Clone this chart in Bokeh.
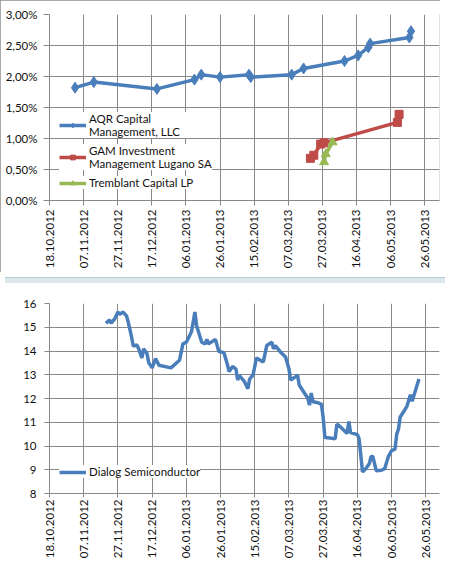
import math
import pandas as pd
from bokeh.plotting import figure
from bokeh.layouts import column
from bokeh.models import (FixedTicker, DatetimeTickFormatter, CustomJSTickFormatter,
                          Legend, LegendItem, Range1d, Div)
from bokeh.embed import file_html
from bokeh.resources import INLINE

# ---------------- data ----------------
x_tick_dates = ["18.10.2012", "07.11.2012", "27.11.2012", "17.12.2012", "06.01.2013",
                "26.01.2013", "15.02.2013", "07.03.2013", "27.03.2013", "16.04.2013",
                "06.05.2013", "26.05.2013"]

aqr_dates = ["02.11.2012", "13.11.2012", "20.12.2012", "11.01.2013", "15.01.2013",
             "26.01.2013", "12.02.2013", "13.02.2013", "09.03.2013", "16.03.2013",
             "09.04.2013", "17.04.2013", "23.04.2013", "24.04.2013", "17.05.2013",
             "18.05.2013"]
aqr_pct = [1.82, 1.91, 1.80, 1.95, 2.03, 1.99, 2.03, 1.99, 2.03, 2.13, 2.25, 2.34,
           2.47, 2.53, 2.63, 2.73]

gam_dates = ["20.03.2013", "22.03.2013", "26.03.2013", "28.03.2013", "10.05.2013",
             "11.05.2013"]
gam_pct = [0.68, 0.73, 0.91, 0.93, 1.26, 1.39]

trem_dates = ["28.03.2013", "29.03.2013", "02.04.2013"]
trem_pct = [0.62, 0.75, 0.94]

dialog_dates = [
    "20.11.2012", "22.11.2012", "23.11.2012", "25.11.2012", "27.11.2012", "28.11.2012",
    "30.11.2012", "02.12.2012", "03.12.2012", "05.12.2012", "06.12.2012", "08.12.2012",
    "09.12.2012", "11.12.2012", "12.12.2012", "14.12.2012", "15.12.2012", "17.12.2012",
    "19.12.2012", "21.12.2012", "28.12.2012", "02.01.2013", "04.01.2013", "06.01.2013",
    "09.01.2013", "11.01.2013", "12.01.2013", "15.01.2013", "17.01.2013", "18.01.2013",
    "19.01.2013", "23.01.2013", "25.01.2013", "28.01.2013", "30.01.2013", "31.01.2013",
    "02.02.2013", "04.02.2013", "05.02.2013", "06.02.2013", "09.02.2013", "11.02.2013",
    "12.02.2013", "14.02.2013", "16.02.2013", "20.02.2013", "22.02.2013", "25.02.2013",
    "26.02.2013", "27.02.2013", "02.03.2013", "05.03.2013", "07.03.2013", "08.03.2013",
    "11.03.2013", "12.03.2013", "13.03.2013", "16.03.2013", "18.03.2013", "19.03.2013",
    "20.03.2013", "21.03.2013", "24.03.2013", "26.03.2013", "27.03.2013", "28.03.2013",
    "31.03.2013", "03.04.2013", "04.04.2013", "06.04.2013", "10.04.2013", "11.04.2013",
    "12.04.2013", "16.04.2013", "17.04.2013", "19.04.2013", "21.04.2013", "23.04.2013",
    "24.04.2013", "25.04.2013", "27.04.2013", "30.04.2013", "02.05.2013", "04.05.2013",
    "06.05.2013", "08.05.2013", "09.05.2013", "10.05.2013", "11.05.2013", "13.05.2013",
    "15.05.2013", "17.05.2013", "18.05.2013", "22.05.2013"]
dialog_price = [
    15.17, 15.31, 15.17, 15.34, 15.64, 15.54, 15.64, 15.48, 15.23, 14.58, 14.20, 14.26,
    14.12, 13.71, 14.09, 13.89, 13.51, 13.29, 13.68, 13.40, 13.29, 13.61, 14.30, 14.37,
    14.81, 15.64, 15.06, 14.37, 14.30, 14.49, 14.30, 14.49, 13.98, 13.93, 13.43, 13.13,
    13.35, 13.24, 12.78, 12.96, 12.71, 12.41, 12.82, 12.99, 13.71, 13.54, 14.23, 14.37,
    14.09, 14.23, 13.96, 13.75, 13.24, 12.78, 12.92, 12.99, 12.57, 12.23, 12.02, 11.72,
    12.23, 11.86, 11.82, 11.75, 11.19, 10.36, 10.34, 10.30, 10.92, 10.81, 10.53, 11.03,
    10.57, 10.48, 10.30, 8.91, 9.05, 9.26, 9.56, 9.56, 8.96, 8.98, 9.05, 9.54,
    9.81, 9.87, 10.50, 10.71, 11.22, 11.44, 11.68, 12.16, 11.88, 12.82]

pct_ticks = [0.0, 0.5, 1.0, 1.5, 2.0, 2.5, 3.0]
price_ticks = [8, 9, 10, 11, 12, 13, 14, 15, 16]

# ---------------- styling ----------------
FONT = "Lato"
FSIZE = "11.5px"
GRID = "#888888"
BLUE = "#4A7EBB"
RED = "#BE4B48"
GREEN = "#98B954"


def to_dt(lst):
    return pd.to_datetime(lst, format="%d.%m.%Y")


tick_ms = [float(v) / 1e6 for v in to_dt(x_tick_dates).asi8]
x_start = to_dt(x_tick_dates)[0]
date_fmt = DatetimeTickFormatter(
    milliseconds="%d.%m.%Y", seconds="%d.%m.%Y", minsec="%d.%m.%Y", minutes="%d.%m.%Y",
    hourmin="%d.%m.%Y", hours="%d.%m.%Y", days="%d.%m.%Y", months="%d.%m.%Y",
    years="%d.%m.%Y")


def style(p, yticks):
    for ax in (p.xaxis, p.yaxis):
        ax.axis_line_color = GRID
        ax.major_tick_line_color = GRID
        ax.minor_tick_line_color = None
        ax.major_tick_in = 0
        ax.major_label_text_font = FONT
        ax.major_label_text_font_size = FSIZE
        ax.major_label_text_color = "#111111"
    p.xaxis.ticker = FixedTicker(ticks=tick_ms)
    p.xaxis.formatter = date_fmt
    p.xaxis.major_label_orientation = math.pi / 2
    p.xaxis.major_tick_out = 5
    p.xaxis.major_label_standoff = 4
    p.yaxis.ticker = FixedTicker(ticks=yticks)
    p.yaxis.major_tick_out = 6
    p.yaxis.major_label_standoff = 6
    p.xgrid.grid_line_color = GRID
    p.ygrid.grid_line_color = GRID
    p.outline_line_color = None
    p.background_fill_color = "white"
    p.border_fill_color = "white"


def style_legend(lg):
    lg.label_text_font = FONT
    lg.label_text_font_size = FSIZE
    lg.label_text_color = "#111111"
    lg.glyph_width = 27
    lg.glyph_height = 12
    lg.label_height = 12
    lg.label_standoff = 3
    lg.spacing = 6
    lg.padding = 0
    lg.margin = 0
    lg.background_fill_alpha = 0
    lg.border_line_color = None
    lg.item_background_policy = "every"
    lg.item_background_fill_color = "white"
    lg.item_background_fill_alpha = 1.0


# ---------------- top chart ----------------
top = figure(width=440, height=272, x_axis_type="datetime",
             x_range=Range1d(x_start, x_start + pd.Timedelta(days=228.7)),
             y_range=Range1d(0, 3),
             output_backend="svg", toolbar_location=None,
             min_border_left=48, min_border_right=0, min_border_top=14,
             min_border_bottom=72)
style(top, pct_ticks)
top.yaxis.formatter = CustomJSTickFormatter(
    code="return tick.toFixed(2).replace('.', ',') + '%';")
# chart-object frame (left and top edges visible in the screenshot)
top.styles = {"outline": "1px solid #8C8C8C", "outline-offset": "-1px"}

aqr_x = to_dt(aqr_dates)
gam_x = to_dt(gam_dates)
trem_x = to_dt(trem_dates)
r_aqr_l = top.line(aqr_x, aqr_pct, line_color=BLUE, line_width=3.5)
r_aqr_m = top.scatter(aqr_x, aqr_pct, marker="diamond", size=11, fill_color=BLUE,
                      line_color=BLUE)
r_gam_l = top.line(gam_x, gam_pct, line_color=RED, line_width=3.5)
r_gam_m = top.scatter(gam_x, gam_pct, marker="square", size=8, fill_color=RED,
                      line_color=RED)
r_tr_l = top.line(trem_x, trem_pct, line_color=GREEN, line_width=3.5)
r_tr_m = top.scatter(trem_x, trem_pct, marker="triangle", size=9, fill_color=GREEN,
                     line_color=GREEN)

leg_top = Legend(items=[
    LegendItem(label="AQR Capital\nManagement, LLC", renderers=[r_aqr_l, r_aqr_m]),
    LegendItem(label="GAM Investment\nManagement Lugano SA", renderers=[r_gam_l, r_gam_m]),
    LegendItem(label="Tremblant Capital LP", renderers=[r_tr_l, r_tr_m]),
], location=(10, 11))
style_legend(leg_top)
top.add_layout(leg_top)

# ---------------- splitter (window divider bar with grip) ----------------
splitter = Div(text='<div style="width:13px;margin:1px auto 0 auto;'
                    'border-top:2px dotted #555555;height:0"></div>',
               width=440, height=6,
               styles={"background-color": "#DDE8EE", "border-top": "1px solid #B8CBD5",
                       "box-sizing": "border-box", "overflow": "hidden"})

# ---------------- bottom chart ----------------
bot = figure(width=440, height=273, x_axis_type="datetime",
             x_range=Range1d(x_start, x_start + pd.Timedelta(days=228.0)),
             y_range=Range1d(8, 16),
             output_backend="svg", toolbar_location=None,
             min_border_left=49, min_border_right=1, min_border_top=15,
             min_border_bottom=66)
style(bot, price_ticks)
bot.yaxis.major_tick_out = 5
bot.yaxis.major_label_standoff = 8
bot.xaxis.major_tick_out = 4
bot.xaxis.major_label_standoff = 2

r_dlg = bot.line(to_dt(dialog_dates), dialog_price, line_color=BLUE, line_width=3.5)
leg_bot = Legend(items=[LegendItem(label="Dialog Semiconductor", renderers=[r_dlg])],
                 location=(10, 15))
style_legend(leg_bot)
bot.add_layout(leg_bot)

layout = column(top, splitter, bot, spacing=0)
open("out.html", "w").write(file_html(layout, INLINE))
